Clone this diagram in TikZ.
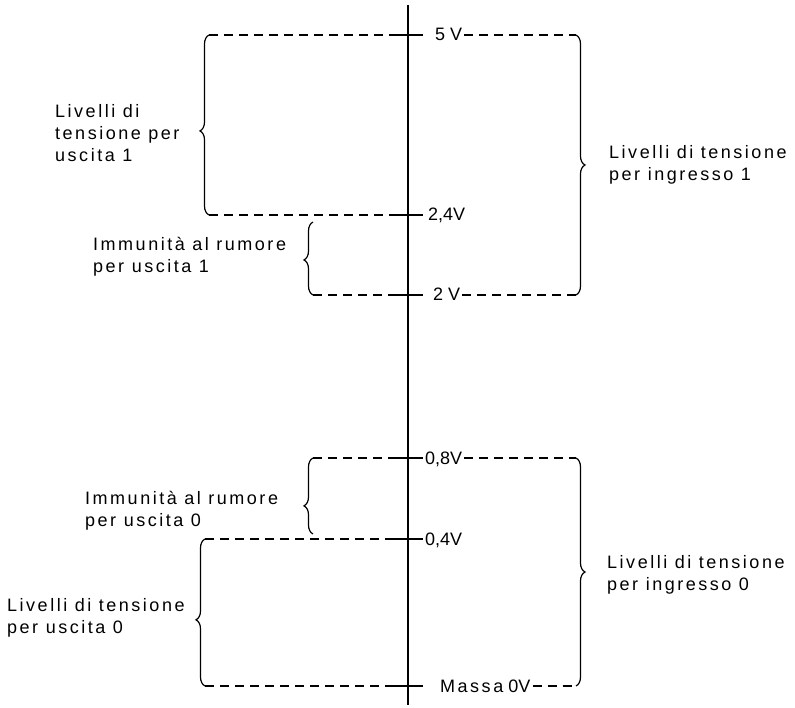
\documentclass[tikz,border=0pt]{standalone}
\usepackage{fontspec}
\setmainfont{Liberation Sans}
\newfontfamily\labfont[LetterSpace=14]{Liberation Sans}
\usetikzlibrary{decorations.pathreplacing}
\begin{document}
\begin{tikzpicture}[x=1pt,y=-1pt,
  axisline/.style={line width=1.6pt},
  tickline/.style={line width=1.8pt},
  dashline/.style={line width=1.2pt, dash pattern=on 9pt off 6pt},
  bracel/.style={decorate, line width=1.2pt, decoration={brace, amplitude=9pt, aspect=#1}},
  lab/.style={font=\labfont\fontsize{18}{22}\selectfont, align=left, inner sep=0pt, anchor=north west},
  ticklab/.style={font=\fontsize{18}{22}\selectfont, inner sep=0pt, anchor=base west}]
\useasboundingbox (0,0) rectangle (795,708);
% axis
\coordinate (axtop) at (408,5);
\coordinate (axbot) at (408,705);
\draw[axisline] (axtop) -- (axbot);
% ticks
\foreach \n/\y in {a/35,b/215,c/295,d/458,e/539,f/686}{
  \coordinate (tl\n) at (392,\y);
  \coordinate (tr\n) at (423,\y);
  \draw[tickline] (tl\n) -- (tr\n);
}
% tick labels
\node[ticklab] (v5)  at (435,41)  {5 V};
\node[ticklab] (v24) at (428,221) {2,4V};
\node[ticklab] (v2)  at (433,301) {2 V};
\node[ticklab] (v08) at (425,464) {0,8V};
\node[ticklab] (v04) at (425,545) {0,4V};
\node[ticklab] (v0)  at (440,692) {{\labfont Massa} 0V};
% brace end points
\coordinate (L1t) at (209,35);  \coordinate (L1b) at (209,215);
\coordinate (R1t) at (576,35);  \coordinate (R1b) at (576,295);
\coordinate (I1t) at (313,222); \coordinate (I1b) at (313,295);
\coordinate (I0t) at (313,458); \coordinate (I0b) at (313,534);
\coordinate (L0t) at (205,539); \coordinate (L0b) at (205,686);
\coordinate (R0t) at (576,458); \coordinate (R0b) at (576,686);
% dashed level lines
\draw[dashline] (L1t) -- (tla);
\draw[dashline, shorten <=2pt] (v5.east |- tla) -- (R1t);
\draw[dashline] (L1b) -- (tlb);
\draw[dashline] (I1b) -- (tlc);
\draw[dashline, shorten <=2pt] (v2.east |- tlc) -- (R1b);
\draw[dashline] (I0t) -- (tld);
\draw[dashline, shorten <=2pt] (v08.east |- tld) -- (R0t);
\draw[dashline] (L0t) -- (tle);
\draw[dashline] (L0b) -- (tlf);
\draw[dashline, shorten <=2pt] (v0.east |- tlf) -- (R0b);
% braces
\draw[bracel=0.467] (L1b) -- (L1t);
\draw[bracel=0.5]   (R1t) -- (R1b);
\draw[bracel=0.48]  (I1b) -- (I1t);
\draw[bracel=0.37]  (I0b) -- (I0t);
\draw[bracel=0.45]  (L0b) -- (L0t);
\draw[bracel=0.5]   (R0t) -- (R0b);
% labels
\node[lab] (lu1) at (55,104)  {Livelli di\\tensione per\\uscita 1};
\node[lab] (li1) at (609,145) {Livelli di tensione\\per ingresso 1};
\node[lab] (im1) at (93,237)  {Immunità al rumore\\per uscita 1};
\node[lab] (im0) at (85,491)  {Immunità al rumore\\per uscita 0};
\node[lab] (lu0) at (7,598)   {Livelli di tensione\\per uscita 0};
\node[lab] (li0) at (607,555) {Livelli di tensione\\per ingresso 0};
\end{tikzpicture}
\end{document}
